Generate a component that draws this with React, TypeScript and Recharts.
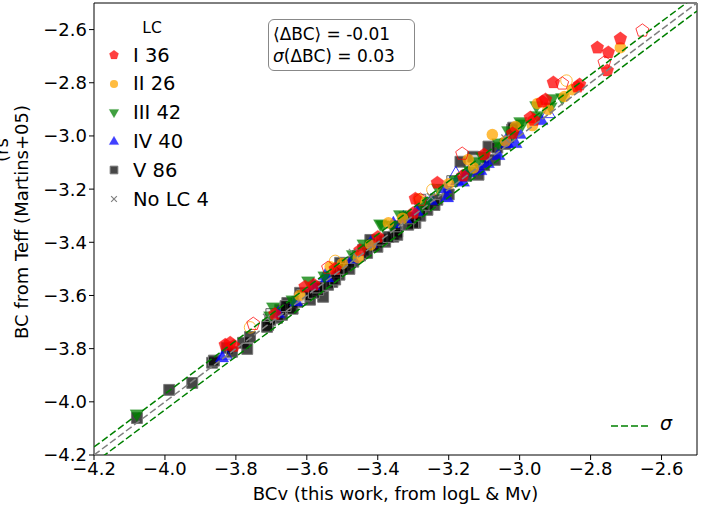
import { ScatterChart, Scatter, XAxis, YAxis, ReferenceLine } from 'recharts'

const FONT = '"DejaVu Sans", sans-serif'
const DOMAIN: [number, number] = [-4.2, -2.5]
const TICKS = [-4.2, -4.0, -3.8, -3.6, -3.4, -3.2, -3.0, -2.8, -2.6]
const SIGMA = 0.03

// [BCv this work, BC from Teff]
const lcI = [
  [-2.781, -2.668], [-2.716, -2.634], [-2.75, -2.686], [-2.753, -2.754], [-2.905, -2.799],
  [-2.837, -2.815], [-2.831, -2.807], [-2.936, -2.871], [-2.927, -2.863], [-2.97, -2.931],
  [-3.232, -3.176], [-3.294, -3.236], [-3.605, -3.567], [-3.83, -3.786], [-3.816, -3.778],
  [-3.806, -3.79], [-3.02, -2.99], [-3.1, -3.07], [-3.3, -3.29], [-3.4, -3.38], [-3.52, -3.5],
  [-3.45, -3.43], [-3.16, -3.15], [-2.96, -2.94], [-3.69, -3.67], [-3.58, -3.56],
]
const lcIOpen = [
  [-2.761, -2.724], [-2.654, -2.604], [-2.88, -2.803], [-3.162, -3.067], [-3.54, -3.496],
  [-3.751, -3.707], [-3.28, -3.24],
]
const lcII = [
  [-2.716, -2.668], [-2.851, -2.826], [-2.874, -2.852], [-2.95, -2.878], [-2.964, -2.961],
  [-3.012, -2.965], [-3.077, -2.995], [-3.145, -3.089], [-3.286, -3.236], [-3.37, -3.327],
  [-3.455, -3.458], [-3.534, -3.492], [-2.92, -2.9], [-3.04, -3.02], [-3.2, -3.18],
  [-3.33, -3.31], [-3.5, -3.48], [-3.62, -3.6], [-3.42, -3.41], [-3.13, -3.12],
]
const lcIIOpen = [[-2.868, -2.792], [-3.246, -3.202], [-3.76, -3.72], [-3.52, -3.47]]
const lcIII = [
  [-2.953, -2.89], [-2.908, -2.863], [-2.95, -2.927], [-2.992, -2.958], [-3.032, -2.984],
  [-2.913, -2.894], [-2.998, -2.95], [-3.105, -3.082], [-3.139, -3.134], [-3.393, -3.334],
  [-3.337, -3.3], [-3.275, -3.266], [-3.387, -3.338], [-3.596, -3.549], [-3.322, -3.304],
  [-3.695, -3.647], [-4.079, -4.049], [-3.703, -3.68], [-3.06, -3.03], [-3.18, -3.17],
  [-3.23, -3.2], [-3.47, -3.45], [-3.55, -3.53], [-3.64, -3.62], [-3.44, -3.41],
  [-3.02, -3.0], [-2.88, -2.86], [-3.36, -3.34], [-3.12, -3.1], [-3.26, -3.25],
]
const lcIV = [
  [-2.939, -2.939], [-3.012, -3.025], [-3.035, -3.006], [-3.035, -3.025], [-3.111, -3.127],
  [-3.145, -3.134], [-3.176, -3.165], [-3.21, -3.195], [-3.205, -3.229], [-3.328, -3.304],
  [-3.356, -3.327], [-3.548, -3.522], [-3.582, -3.56], [-3.681, -3.665], [-3.839, -3.831],
  [-3.543, -3.53], [-3.322, -3.308], [-3.09, -3.1], [-3.25, -3.24], [-3.42, -3.4],
  [-3.47, -3.46], [-3.63, -3.62], [-3.29, -3.28], [-3.0, -2.99], [-3.16, -3.17], [-3.06, -3.07],
]
const lcIVOpen = [[-2.919, -2.912], [-3.18, -3.14], [-3.83, -3.82]]
const lcV = [
  [-4.079, -4.061], [-3.988, -3.955], [-3.923, -3.929], [-3.867, -3.853], [-3.862, -3.845],
  [-3.825, -3.797], [-3.811, -3.812], [-3.78, -3.778], [-3.768, -3.801], [-3.76, -3.756],
  [-3.709, -3.711], [-3.684, -3.684], [-3.67, -3.673], [-3.647, -3.647], [-3.619, -3.59],
  [-3.591, -3.616], [-3.554, -3.605], [-3.568, -3.579], [-3.528, -3.549], [-3.508, -3.522],
  [-3.492, -3.485], [-3.469, -3.473], [-3.441, -3.428], [-3.413, -3.409], [-3.379, -3.398],
  [-3.356, -3.379], [-3.345, -3.36], [-3.294, -3.327], [-3.275, -3.259], [-3.26, -3.278],
  [-3.345, -3.372], [-3.3, -3.327], [-3.266, -3.259], [-3.232, -3.24], [-3.167, -3.097],
  [-3.131, -3.078], [-3.116, -3.146], [-3.088, -3.04], [-3.063, -3.044], [-3.021, -2.976],
  [-3.018, -2.969], [-3.421, -3.391], [-3.401, -3.417], [-3.506, -3.477], [-3.514, -3.511],
  [-3.562, -3.567], [-3.627, -3.624], [-3.613, -3.598], [-3.655, -3.628], [-3.675, -3.654],
  [-3.703, -3.692], [-3.712, -3.718], [-3.314, -3.334], [-3.6, -3.6], [-3.58, -3.59],
  [-3.54, -3.56], [-3.5, -3.5], [-3.45, -3.45], [-3.43, -3.44], [-3.39, -3.39],
  [-3.37, -3.38], [-3.31, -3.31], [-3.28, -3.3], [-3.2, -3.22], [-3.15, -3.15],
  [-3.1, -3.08], [-3.07, -3.09], [-3.04, -3.03], [-3.52, -3.54], [-3.48, -3.5],
  [-3.64, -3.65], [-3.66, -3.64], [-3.35, -3.34], [-3.24, -3.26], [-3.1, -3.11], [-3.57, -3.57],
]
const lcVOpen = [
  [-3.28, -3.24], [-3.455, -3.45], [-3.7, -3.67], [-3.12, -3.09], [-3.19, -3.17], [-3.62, -3.61],
]
const noLC = [[-3.712, -3.684], [-3.47, -3.44], [-3.25, -3.23], [-3.04, -3.01]]

const LEGEND = [
  { kind: 'pent', label: 'I 36' },
  { kind: 'circ', label: 'II 26' },
  { kind: 'down', label: 'III 42' },
  { kind: 'up', label: 'IV 40' },
  { kind: 'sq', label: 'V 86' },
  { kind: 'x', label: 'No LC 4' },
]

const COLORS: Record<string, string> = {
  pent: '#ff0000', circ: '#ffa500', down: '#008000', up: '#0000ff', sq: '#000000', x: '#808080',
}

const toPts = (arr: number[][], open = false) => arr.map(([x, y]) => ({ x, y, open }))

function markerPath(kind: string, cx: number, cy: number, s: number) {
  if (kind === 'pent') {
    const pts = [0, 1, 2, 3, 4].map((k) => {
      const a = ((-90 + k * 72) * Math.PI) / 180
      return `${cx + s * Math.cos(a)},${cy + s * Math.sin(a)}`
    })
    return `M${pts.join('L')}Z`
  }
  if (kind === 'down') return `M${cx - s},${cy - s * 0.75}L${cx + s},${cy - s * 0.75}L${cx},${cy + s}Z`
  if (kind === 'up') return `M${cx - s},${cy + s * 0.75}L${cx + s},${cy + s * 0.75}L${cx},${cy - s}Z`
  const h = s * 0.8
  return `M${cx - h},${cy - h}L${cx + h},${cy - h}L${cx + h},${cy + h}L${cx - h},${cy + h}Z`
}

function Marker({ kind, cx, cy, s, open }: { kind: string; cx: number; cy: number; s: number; open?: boolean }) {
  const c = COLORS[kind]
  if (kind === 'x') {
    const a = s * 0.6
    return (
      <path d={`M${cx - a},${cy - a}L${cx + a},${cy + a}M${cx - a},${cy + a}L${cx + a},${cy - a}`} stroke={c} strokeWidth={1.2} />
    )
  }
  if (kind === 'sq') {
    return open ? (
      <path d={markerPath(kind, cx, cy, s)} fill="#e8e8e8" fillOpacity={0.8} stroke="#666" strokeWidth={1} />
    ) : (
      <path d={markerPath(kind, cx, cy, s)} fill="#000" fillOpacity={0.72} stroke="#777" strokeWidth={1} />
    )
  }
  if (kind === 'circ') {
    return open ? (
      <circle cx={cx} cy={cy} r={s * 0.85} fill="none" stroke={c} strokeOpacity={0.75} strokeWidth={1} />
    ) : (
      <circle cx={cx} cy={cy} r={s * 0.85} fill={c} fillOpacity={0.75} />
    )
  }
  return open ? (
    <path d={markerPath(kind, cx, cy, s)} fill="none" stroke={c} strokeOpacity={0.75} strokeWidth={1} />
  ) : (
    <path d={markerPath(kind, cx, cy, s)} fill={c} fillOpacity={0.75} stroke={c} strokeOpacity={0.4} strokeWidth={0.5} />
  )
}

const shapeFor = (kind: string) => (props: any) => (
  <Marker kind={kind} cx={props.cx} cy={props.cy} s={6.8} open={props.payload?.open} />
)
const noShape = () => <g />

const minus = (v: number) => v.toFixed(1).replace('-', '\u2212')

const XTick = (props: any) => (
  <text x={props.x} y={props.y} dy="0.8em" textAnchor="middle" fontSize={18} fontFamily={FONT} fill="#000">
    {minus(props.payload.value)}
  </text>
)
const YTick = (props: any) => (
  <text x={props.x} y={props.y} dy="0.36em" textAnchor="end" fontSize={18} fontFamily={FONT} fill="#000">
    {minus(props.payload.value)}
  </text>
)

const oneToOne = [{ x: DOMAIN[0], y: DOMAIN[0] }, { x: DOMAIN[1], y: DOMAIN[1] }]
const upper = oneToOne.map((p) => ({ x: p.x, y: p.y + SIGMA }))
const lower = oneToOne.map((p) => ({ x: p.x, y: p.y - SIGMA }))

export default function App() {
  return (
    <div style={{ position: 'absolute', left: 0, top: 0, width: 714, height: 515, background: '#fff', fontFamily: FONT, overflow: 'hidden' }}>
      <ScatterChart width={714} height={515} margin={{ top: 3, right: 17, bottom: 30, left: 34 }}>
        <XAxis
          type="number" dataKey="x" domain={DOMAIN} ticks={TICKS} allowDataOverflow
          tick={XTick} height={30} stroke="#000" tickSize={5} tickMargin={1}
        />
        <YAxis
          type="number" dataKey="y" domain={DOMAIN} ticks={TICKS} allowDataOverflow
          tick={YTick} width={60} stroke="#000" tickSize={5} tickMargin={2}
        />
        <ReferenceLine y={DOMAIN[1]} stroke="#000" />
        <ReferenceLine x={DOMAIN[1]} stroke="#000" />
        <Scatter data={toPts(lcV)} shape={shapeFor('sq')} isAnimationActive={false} />
        <Scatter data={toPts(lcVOpen, true)} shape={shapeFor('sq')} isAnimationActive={false} />
        <Scatter data={toPts(lcIV)} shape={shapeFor('up')} isAnimationActive={false} />
        <Scatter data={toPts(lcIVOpen, true)} shape={shapeFor('up')} isAnimationActive={false} />
        <Scatter data={toPts(lcIII)} shape={shapeFor('down')} isAnimationActive={false} />
        <Scatter data={toPts(lcII)} shape={shapeFor('circ')} isAnimationActive={false} />
        <Scatter data={toPts(lcIIOpen, true)} shape={shapeFor('circ')} isAnimationActive={false} />
        <Scatter data={toPts(lcI)} shape={shapeFor('pent')} isAnimationActive={false} />
        <Scatter data={toPts(lcIOpen, true)} shape={shapeFor('pent')} isAnimationActive={false} />
        <Scatter data={toPts(noLC)} shape={shapeFor('x')} isAnimationActive={false} />
        <Scatter data={oneToOne} shape={noShape} line={{ stroke: '#808080', strokeWidth: 1.5, strokeDasharray: '7 3' }} isAnimationActive={false} />
        <Scatter data={upper} shape={noShape} line={{ stroke: '#008000', strokeWidth: 1.5, strokeDasharray: '7 3' }} isAnimationActive={false} />
        <Scatter data={lower} shape={noShape} line={{ stroke: '#008000', strokeWidth: 1.5, strokeDasharray: '7 3' }} isAnimationActive={false} />
      </ScatterChart>

      {/* LC legend */}
      <div style={{ position: 'absolute', left: 137, top: 19, fontSize: 15.5, width: 30, textAlign: 'center' }}>LC</div>
      {LEGEND.map((e, i) => (
        <div key={e.label} style={{ position: 'absolute', left: 106, top: 55 + i * 28.8 - 12, height: 24, display: 'flex', alignItems: 'center' }}>
          <svg width={16} height={16} style={{ marginRight: 11 }}>
            <Marker kind={e.kind} cx={8} cy={8} s={4.8} />
          </svg>
          <span style={{ fontSize: 19.5, whiteSpace: 'nowrap' }}>{e.label}</span>
        </div>
      ))}

      {/* stats box */}
      <div style={{ position: 'absolute', left: 268, top: 19, width: 137, height: 44, padding: '3px 4px', border: '1px solid #888', borderRadius: 6, fontSize: 17, lineHeight: '22px', whiteSpace: 'nowrap' }}>
        <div>⟨ΔBC⟩ = -0.01</div>
        <div><i>σ</i>(ΔBC) = 0.03</div>
      </div>

      {/* sigma legend */}
      <svg style={{ position: 'absolute', left: 605, top: 418 }} width={50} height={16}>
        <line x1={6} y1={8} x2={44} y2={8} stroke="#008000" strokeWidth={1.5} strokeDasharray="7 3" />
      </svg>
      <div style={{ position: 'absolute', left: 660, top: 412, fontSize: 19, fontStyle: 'italic' }}>σ</div>

      {/* axis titles */}
      <div style={{ position: 'absolute', left: 0, width: 791, top: 483, textAlign: 'center', fontSize: 18 }}>
        BCv (this work, from logL &amp; Mv)
      </div>
      <div style={{ position: 'absolute', left: 21, top: 222, transform: 'translate(-50%, -50%) rotate(-90deg)', fontSize: 18, whiteSpace: 'nowrap' }}>
        BC from Teff (Martins+05)
      </div>
      <div style={{ position: 'absolute', left: 1, top: 150, transform: 'translate(-50%, -50%) rotate(-90deg)', fontSize: 18, whiteSpace: 'nowrap' }}>
        (rs
      </div>
    </div>
  )
}
